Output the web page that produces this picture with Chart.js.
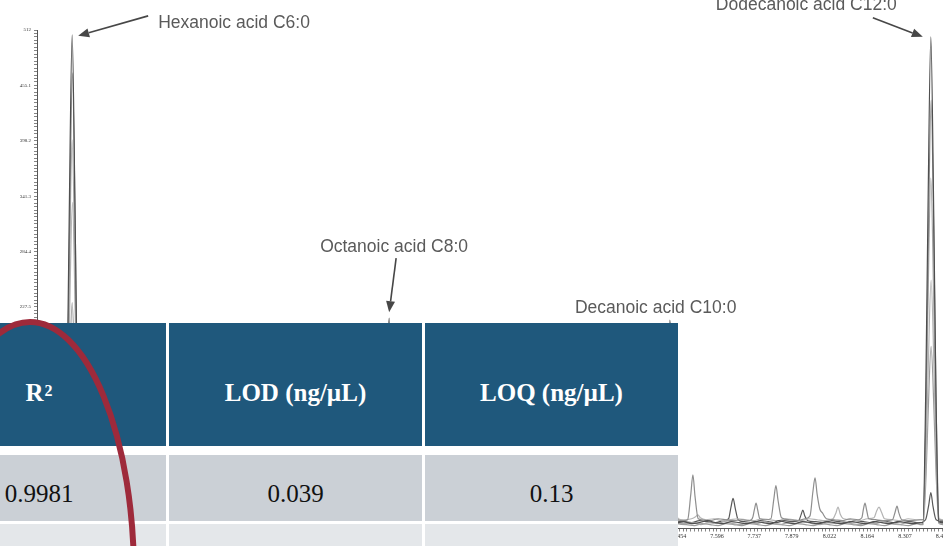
<!DOCTYPE html>
<html>
<head>
<meta charset="utf-8">
<title>Fatty acid chromatogram</title>
<script src="https://cdn.jsdelivr.net/npm/chart.js@4.4.1/dist/chart.umd.min.js"></script>
<style>
  html, body { margin: 0; padding: 0; background: #ffffff; overflow: hidden; }
  #wrap { position: relative; width: 943px; height: 546px; overflow: hidden; }
  #c { position: absolute; left: 0; top: 0; }
  #tbl { position: absolute; left: 0; top: 323px; width: 678px; height: 223px; background: #ffffff; }
  .cell { position: absolute; display: flex; justify-content: center; align-items: center;
          box-sizing: border-box; font-family: "Liberation Serif", "Times New Roman", serif; }
  .head { background: #1f587c; color: #ffffff; font-weight: bold; font-size: 25px; padding-top: 16px; }
  .row1 { background: #cbd0d6; color: #111111; font-size: 25px; padding-top: 12px; }
  .row2 { background: #e4e7ea; color: #111111; font-size: 25px; }
  .head sup { font-size: 16px; position: relative; top: -2px; margin-left: 1px; }
  #ring { position: absolute; left: 0; top: 0; pointer-events: none; }
</style>
</head>
<body>
<div id="wrap">
  <canvas id="c" width="943" height="546"></canvas>
  <div id="tbl"></div>
  <svg id="ring" width="943" height="546">
    <ellipse cx="30" cy="575" rx="104" ry="253" fill="none" stroke="#9e2a3b" stroke-width="6"></ellipse>
  </svg>
</div>
<script>
// ---- Overlaid runs: [retention time (min), abundance] ----
const level1 = [[5.024,6],[5.060,7],[5.100,6],
  [5.127,6],[5.138,147],[5.146,324],[5.157,507],[5.168,324],[5.176,147],[5.187,7],
  [5.300,6],[5.600,7],[5.900,6],[6.200,7],
  [6.326,6],[6.337,63],[6.345,138],[6.356,216],[6.367,138],[6.375,63],[6.386,7],
  [6.600,6],[6.900,7],[7.200,6],
  [7.388,6],[7.399,62],[7.407,137],[7.418,214],[7.429,137],[7.437,62],[7.448,6],
  [7.470,7],[7.500,5],[7.530,6],[7.560,8],[7.590,6],[7.620,5],[7.650,7],[7.680,6],[7.710,5],
  [7.740,7],[7.770,6],[7.800,5],[7.830,8],[7.860,6],[7.890,5],[7.920,7],[7.950,6],[7.980,5],
  [8.010,7],[8.040,6],[8.070,5],[8.100,7],[8.130,6],[8.160,5],[8.190,7],[8.220,6],[8.250,5],
  [8.280,7],[8.310,6],[8.340,5],[8.365,6],
  [8.375,6],[8.386,146],[8.394,323],[8.405,505],[8.416,323],[8.424,146],[8.435,7],[8.451,6]];

const level2 = [[5.024,8],[5.080,9],
  [5.128,8],[5.139,136],[5.147,300],[5.158,468],[5.169,300],[5.177,136],[5.188,9],
  [5.400,8],[5.800,9],[6.100,8],
  [6.327,8],[6.338,55],[6.346,122],[6.357,190],[6.368,122],[6.376,55],[6.387,8],
  [6.700,9],[7.100,8],
  [7.389,8],[7.400,55],[7.408,120],[7.419,188],[7.430,120],[7.438,55],[7.449,9],
  [7.470,8],[7.485,9],[7.497,35],[7.505,55],[7.513,33],[7.525,10],[7.540,9],[7.570,8],[7.600,10],
  [7.630,9],[7.660,8],[7.690,9],[7.720,8],[7.732,12],[7.738,20],[7.744,26],[7.750,19],[7.758,10],
  [7.780,9],[7.800,10],[7.811,30],[7.819,44],[7.827,29],[7.840,11],[7.870,9],[7.900,8],[7.930,10],
  [7.948,13],[7.959,38],[7.967,52],[7.975,35],[7.985,20],[7.995,16],[8.010,10],[8.040,9],[8.070,8],
  [8.100,10],[8.130,9],[8.144,11],[8.150,20],[8.156,26],[8.162,19],[8.170,10],[8.200,9],[8.230,8],
  [8.260,9],[8.270,17],[8.277,23],[8.284,16],[8.295,9],[8.330,8],[8.365,9],
  [8.376,9],[8.387,128],[8.395,282],[8.406,440],[8.417,282],[8.425,128],[8.436,9],[8.451,8]];

const level3 = [[5.024,5],[5.090,6],
  [5.127,5],[5.138,116],[5.146,255],[5.157,399],[5.168,255],[5.176,116],[5.187,5],
  [5.500,6],[5.900,5],[6.200,6],
  [6.326,5],[6.337,47],[6.345,102],[6.356,160],[6.367,102],[6.375,47],[6.386,6],
  [6.800,5],[7.200,6],
  [7.388,5],[7.399,47],[7.407,104],[7.418,162],[7.429,104],[7.437,47],[7.448,6],
  [7.475,5],[7.505,6],[7.535,4],[7.565,6],[7.595,5],[7.625,7],[7.655,5],[7.685,4],[7.715,6],
  [7.745,5],[7.775,7],[7.805,5],[7.835,4],[7.865,6],[7.895,5],[7.925,7],[7.955,5],[7.985,4],
  [8.015,6],[8.045,5],[8.075,7],[8.105,5],[8.135,4],[8.165,6],[8.195,5],[8.225,7],[8.255,5],
  [8.285,4],[8.315,6],[8.345,5],[8.368,6],
  [8.375,5],[8.386,104],[8.394,230],[8.405,360],[8.416,230],[8.424,104],[8.435,6],[8.451,5]];

const level4 = [[5.024,9],[5.070,10],
  [5.128,9],[5.139,97],[5.147,214],[5.158,335],[5.169,214],[5.177,97],[5.188,10],
  [5.450,9],[5.850,10],[6.150,9],
  [6.327,9],[6.338,38],[6.346,83],[6.357,130],[6.368,83],[6.376,38],[6.387,10],
  [6.750,9],[7.150,10],
  [7.389,9],[7.400,39],[7.408,86],[7.419,135],[7.430,86],[7.438,39],[7.449,10],
  [7.470,9],[7.500,10],[7.515,12],[7.524,14],[7.533,11],[7.555,9],[7.585,10],[7.615,8],[7.645,9],
  [7.675,10],[7.705,9],[7.735,8],[7.765,10],[7.795,9],[7.825,8],[7.855,10],[7.885,9],[7.915,8],
  [7.945,10],[7.975,9],[8.005,8],[8.035,10],[8.046,16],[8.054,22],[8.062,15],[8.075,10],[8.105,9],
  [8.135,8],[8.165,10],[8.190,11],[8.200,18],[8.209,22],[8.218,17],[8.230,10],[8.260,9],[8.290,8],
  [8.320,10],[8.350,9],[8.368,9],
  [8.376,9],[8.387,74],[8.395,163],[8.406,255],[8.417,163],[8.425,74],[8.436,10],[8.451,9]];

const level5 = [[5.024,4],[5.100,5],
  [5.127,4],[5.138,67],[5.146,148],[5.157,232],[5.168,148],[5.176,67],[5.187,5],
  [5.350,4],[5.750,5],[6.050,4],
  [6.326,4],[6.337,26],[6.345,58],[6.356,90],[6.367,58],[6.375,26],[6.386,5],
  [6.650,4],[7.050,5],
  [7.388,4],[7.399,28],[7.407,61],[7.418,95],[7.429,61],[7.437,28],[7.448,5],
  [7.480,4],[7.510,3],[7.540,5],[7.570,4],[7.600,3],[7.630,5],[7.660,4],[7.690,3],[7.720,5],
  [7.750,4],[7.780,3],[7.810,5],[7.840,4],[7.870,3],[7.900,5],[7.930,4],[7.960,3],[7.990,5],
  [8.020,4],[8.050,3],[8.080,5],[8.110,4],[8.140,3],[8.170,5],[8.200,4],[8.230,3],[8.260,5],
  [8.290,4],[8.320,3],[8.350,5],[8.368,4],
  [8.376,4],[8.387,55],[8.395,120],[8.406,187],[8.417,120],[8.425,55],[8.436,5],[8.451,4]];

const level6 = [[5.024,7],[5.110,8],
  [5.130,7],[5.142,22],[5.150,35],[5.157,45],[5.164,35],[5.172,22],[5.185,8],
  [5.600,7],[6.000,8],
  [6.330,7],[6.345,13],[6.356,18],[6.367,13],[6.382,8],
  [6.900,7],
  [7.392,7],[7.407,14],[7.418,20],[7.429,14],[7.444,8],
  [7.470,7],[7.500,6],[7.530,8],[7.560,7],[7.590,6],[7.620,8],[7.640,10],[7.649,22],[7.657,31],
  [7.665,21],[7.676,9],[7.700,7],[7.730,6],[7.760,8],[7.790,7],[7.820,6],[7.850,8],[7.880,7],
  [7.905,8],[7.914,14],[7.921,19],[7.928,13],[7.940,8],[7.970,7],[8.000,6],[8.030,8],[8.060,7],
  [8.090,6],[8.120,8],[8.150,7],[8.180,6],[8.210,8],[8.240,7],[8.270,6],[8.300,8],[8.330,7],
  [8.360,6],[8.385,9],[8.397,24],[8.405,37],[8.413,23],[8.425,9],[8.451,7]];

const runs = [level1, level2, level3, level4, level5, level6];
const runColors = ['#4f4f4f', '#8e8e8e', '#a8a8a8', '#b4b4b4', '#9c9c9c', '#575757'];

// Peak assignments (retention times of the labelled acids, taken from level1)
const acidNames = ['Hexanoic acid C6:0', 'Octanoic acid C8:0', 'Decanoic acid C10:0', 'Dodecanoic acid C12:0'];
const acidTimes = [5.157, 6.356, 7.418, 8.405];

// Axis tick labels
const timeTickLabels = ['5.034','5.176','5.318','5.461','5.603','5.746','5.888','6.030','6.173','6.315',
  '6.457','6.600','6.742','6.884','7.027','7.169','7.312','7.454','7.596','7.737','7.879','8.022',
  '8.164','8.307','8.449'];
const abundanceTickLabels = ['0','56.9','113.8','170.6','227.5','284.4','341.3','398.2','455.1','512'];

// Summary table
const tableHeaders = ['R<sup>2</sup>', 'LOD (ng/µL)', 'LOQ (ng/µL)'];
const tableRow1 = ['0.9981', '0.039', '0.13'];
const tableRow2 = ['', '', ''];

// ---- minor/major ticks built from the labelled values ----
function withMinors(labels, parts) {
  const vals = labels.map(Number);
  const out = [];
  for (let i = 0; i < vals.length; i++) {
    out.push({ value: vals[i], major: true });
    if (i < vals.length - 1) {
      const step = (vals[i + 1] - vals[i]) / parts;
      for (let k = 1; k < parts; k++) out.push({ value: vals[i] + k * step, major: false });
    }
  }
  return out;
}
function labelFor(labels, v) {
  const hit = labels.find(l => Math.abs(Number(l) - v) < 1e-6);
  return hit === undefined ? '' : hit;
}

// ---- peak callouts: text + arrow, placed relative to each peak apex ----
const calloutLayout = [
  { tx: 86,   ty: -7,  arrow: [76, -19, 6, 1] },
  { tx: -69,  ty: -66, arrow: [7, -60, 0, -6] },
  { tx: -95,  ty: -7,  arrow: null },
  { tx: -215, ty: -27, arrow: [-58, -19, -8, 0] }
];
function drawArrow(ctx, x0, y0, x1, y1) {
  const a = Math.atan2(y1 - y0, x1 - x0);
  const L = 11, W = 4.5;
  const bx = x1 - L * Math.cos(a), by = y1 - L * Math.sin(a);
  ctx.beginPath();
  ctx.moveTo(x0, y0);
  ctx.lineTo(bx, by);
  ctx.stroke();
  ctx.beginPath();
  ctx.moveTo(x1, y1);
  ctx.lineTo(bx + W * Math.sin(a), by - W * Math.cos(a));
  ctx.lineTo(bx - W * Math.sin(a), by + W * Math.cos(a));
  ctx.closePath();
  ctx.fill();
}
const callouts = {
  id: 'peakCallouts',
  afterDatasetsDraw(chart) {
    const { ctx, scales } = chart;
    ctx.save();
    acidNames.forEach((name, i) => {
      const apex = level1.find(p => p[0] === acidTimes[i]);
      const px = scales.x.getPixelForValue(apex[0]);
      const py = scales.y.getPixelForValue(apex[1]);
      const c = calloutLayout[i];
      ctx.font = '17.5px "Liberation Sans", Arial, sans-serif';
      ctx.fillStyle = '#5a5a5a';
      ctx.textAlign = 'left';
      ctx.textBaseline = 'alphabetic';
      ctx.fillText(name, px + c.tx, py + c.ty);
      if (c.arrow) {
        ctx.strokeStyle = '#474747';
        ctx.fillStyle = '#474747';
        ctx.lineWidth = 1.6;
        drawArrow(ctx, px + c.arrow[0], py + c.arrow[1], px + c.arrow[2], py + c.arrow[3]);
      }
    });
    ctx.restore();
  }
};

new Chart(document.getElementById('c'), {
  type: 'line',
  data: {
    datasets: runs.map((run, i) => ({
      data: run.map(([x, y]) => ({ x, y })),
      borderColor: runColors[i],
      borderWidth: 1.2,
      pointRadius: 0,
      fill: false,
      cubicInterpolationMode: 'monotone'
    }))
  },
  options: {
    responsive: false,
    devicePixelRatio: 1,
    animation: false,
    layout: { padding: { top: 30, left: 0, right: 0, bottom: 0 } },
    plugins: { legend: { display: false }, tooltip: { enabled: false } },
    scales: {
      x: {
        type: 'linear',
        min: 5.024,
        max: 8.451,
        afterBuildTicks: s => { s.ticks = withMinors(timeTickLabels, 10); },
        afterFit: s => { s.height = 17.5; s.paddingLeft = 0; s.paddingRight = 0; },
        ticks: {
          autoSkip: false, maxRotation: 0, minRotation: 0, padding: 1,
          color: '#333333',
          font: { family: '"Liberation Serif", serif', size: 6 },
          callback: v => labelFor(timeTickLabels, v)
        },
        grid: { drawOnChartArea: false, drawTicks: true, tickLength: 3, color: '#666666', lineWidth: 0.8 },
        border: { display: true, color: '#555555', width: 1 }
      },
      y: {
        type: 'linear',
        min: 0,
        max: 512,
        afterBuildTicks: s => { s.ticks = withMinors(abundanceTickLabels, 16); },
        afterFit: s => { s.width = 37; s.paddingTop = 0; s.paddingBottom = 0; },
        ticks: {
          autoSkip: false, padding: 3,
          color: '#333333',
          font: { family: '"Liberation Serif", serif', size: 5 },
          callback: v => labelFor(abundanceTickLabels, v)
        },
        grid: { drawOnChartArea: false, drawTicks: true, tickLength: 3, color: '#666666', lineWidth: 0.8 },
        border: { display: true, color: '#555555', width: 1 }
      }
    }
  },
  plugins: [callouts]
});

// ---- summary table laid over the lower part of the trace ----
const tableTop = 323;
const columns = [{ left: -88, width: 254 }, { left: 169, width: 253 }, { left: 425, width: 253 }];
const rows = [
  { cells: tableHeaders, cls: 'head', top: 323, height: 123 },
  { cells: tableRow1, cls: 'row1', top: 455, height: 66 },
  { cells: tableRow2, cls: 'row2', top: 524, height: 30 }
];
const tbl = document.getElementById('tbl');
rows.forEach(r => {
  r.cells.forEach((html, j) => {
    const d = document.createElement('div');
    d.className = 'cell ' + r.cls;
    d.style.left = columns[j].left + 'px';
    d.style.width = columns[j].width + 'px';
    d.style.top = (r.top - tableTop) + 'px';
    d.style.height = r.height + 'px';
    d.innerHTML = html;
    tbl.appendChild(d);
  });
});
</script>
</body>
</html>
